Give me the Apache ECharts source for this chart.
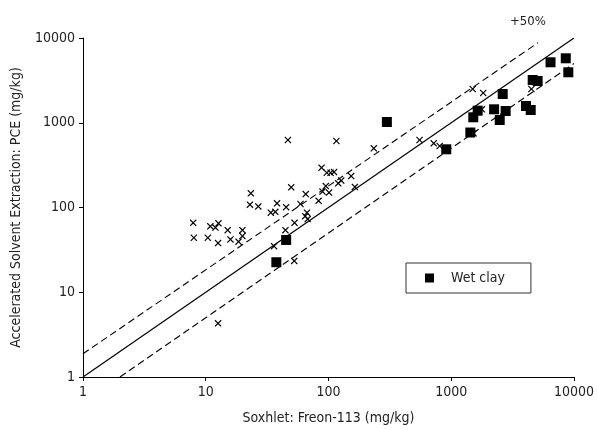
<!DOCTYPE html>
<html>
<head>
<meta charset="utf-8">
<script src="https://cdn.jsdelivr.net/npm/echarts@6/dist/echarts.min.js"></script>
<style>
html,body{margin:0;padding:0;background:#fff;}
#chart{width:597px;height:430px;}
</style>
</head>
<body>
<div id="chart"></div>
<script>
// Other samples (crosses)
var crossX = [7.9, 8.0, 10.4, 10.9, 12.0, 12.7, 12.6, 15.1, 15.9, 18.5,
  19.9, 19.9, 23.3, 22.9, 26.8, 33.9, 36.9, 38.1, 45.2, 49.7,
  44.6, 36.0, 52.9, 52.6, 59.1, 65.3, 64.6, 66.8, 67.7, 83.1,
  87.8, 89.4, 95.1, 96.9, 101, 104, 111, 120, 127, 153,
  164, 46.7, 116, 234, 552, 720, 805, 1496, 1822, 1778,
  1519, 4500, 12.6];
var crossY = [66, 44, 44, 60, 58, 65, 38, 54, 42, 39.5,
  54, 46, 147, 108, 103, 87, 89, 112, 101, 173,
  54, 35, 66, 23.4, 110, 144, 79, 87, 73, 120,
  295, 154, 179, 257, 150, 257, 262, 193, 208, 235,
  175, 626, 609, 499, 626, 572, 532, 2500, 2244, 1441,
  751, 2500, 4.3];
// Wet clay (squares)
var wetX = [37.6, 45.2, 299, 911, 1431, 1513, 1642, 2235, 2484, 2776, 2627, 4064, 4442, 4610, 5058, 6441, 8575, 8995];
var wetY = [22.6, 41.4, 1021, 486, 767, 1160, 1388, 1441, 1078, 1376, 2184, 1576, 1414, 3194, 3109, 5169, 5761, 3938];
// Reference lines
var lineEqualX = [1, 10000];
var lineEqualY = [1, 10000];
var lineUpperX = [1, 5100];
var lineUpperY = [1.88, 8800];
var lineLowerX = [2, 10000];
var lineLowerY = [1, 5000];
var tickLabels = ['1', '10', '100', '1000', '10000'];

function zip(a, b) { return a.map(function (v, i) { return [v, b[i]]; }); }

var FONT = "'Liberation Sans Narrow','DejaVu Sans Condensed',sans-serif";
var crossPath = 'path://M0,1.2L1.2,0L5,3.8L8.8,0L10,1.2L6.2,5L10,8.8L8.8,10L5,6.2L1.2,10L0,8.8L3.8,5Z';

var chart = echarts.init(document.getElementById('chart'), null, {renderer: 'canvas'});
function axisCommon(name, gap) {
  return {
    type: 'log', logBase: 10, min: 1, max: 10000,
    name: name, nameLocation: 'middle', nameGap: gap,
    nameTextStyle: {fontFamily: FONT, fontSize: 14, color: '#222'},
    axisLine: {show: true, lineStyle: {color: '#000', width: 1}},
    axisTick: {show: true, inside: false, length: 4, lineStyle: {color: '#000'}},
    minorTick: {show: false},
    splitLine: {show: false},
    axisLabel: {fontFamily: FONT, fontSize: 14, color: '#222', margin: 8,
      formatter: function (v) { var i = Math.round(Math.log10(v)); return tickLabels[i] !== undefined ? tickLabels[i] : ''; }}
  };
}
var xAxis = axisCommon('Soxhlet: Freon-113 (mg/kg)', 34);
var yAxis = axisCommon('Accelerated Solvent Extraction: PCE (mg/kg)', 60);

chart.setOption({
  animation: false,
  backgroundColor: '#fff',
  title: {text: '+50%', left: 505, top: 10,
    textStyle: {fontFamily: FONT, fontSize: 13, fontWeight: 'normal', color: '#222'}},
  grid: {left: 83, right: 18, top: 38, bottom: 53, containLabel: false},
  legend: {
    data: ['Wet clay'], left: 406, top: 263, orient: 'horizontal',
    borderColor: '#333', borderWidth: 1, borderRadius: 0,
    padding: [8, 26, 8, 19],
    icon: 'rect', itemWidth: 9, itemHeight: 9,
    textStyle: {fontFamily: FONT, fontSize: 14, color: '#222', padding: [0, 0, 0, 12]}
  },
  xAxis: xAxis,
  yAxis: yAxis,
  series: [
    {name: 'equal', type: 'line', data: zip(lineEqualX, lineEqualY), showSymbol: false, symbol: 'none', silent: true,
      lineStyle: {color: '#000', width: 1.2}},
    {name: 'upper', type: 'line', data: zip(lineUpperX, lineUpperY), showSymbol: false, symbol: 'none', silent: true,
      lineStyle: {color: '#000', width: 1.1, type: [7, 4]}},
    {name: 'lower', type: 'line', data: zip(lineLowerX, lineLowerY), showSymbol: false, symbol: 'none', silent: true,
      lineStyle: {color: '#000', width: 1.1, type: [7, 4]}},
    {name: 'Other', type: 'scatter', data: zip(crossX, crossY), symbol: crossPath, symbolSize: 7,
      itemStyle: {color: '#000', opacity: 1}},
    {name: 'Wet clay', type: 'scatter', data: zip(wetX, wetY), symbol: 'rect', symbolSize: 10,
      itemStyle: {color: '#000', opacity: 1}}
  ]
});
</script>
</body>
</html>
